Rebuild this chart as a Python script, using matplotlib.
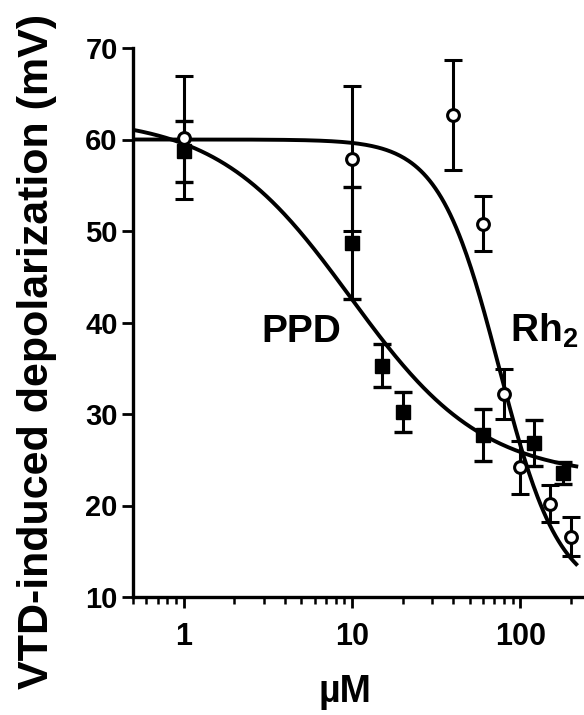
import numpy as np
import matplotlib
matplotlib.use('Agg')
from matplotlib import pyplot as plt

plt.rcParams['font.family'] = ['Liberation Sans', 'DejaVu Sans']
plt.rcParams['font.weight'] = 'bold'
plt.rcParams['mathtext.fontset'] = 'custom'
plt.rcParams['mathtext.rm'] = 'Liberation Sans:bold'
plt.rcParams['mathtext.bf'] = 'Liberation Sans:bold'

# PPD (filled squares)
ppd_conc = [1, 10, 15, 20, 60, 120, 180]
ppd_mean = [58.7, 48.7, 35.3, 30.2, 27.7, 26.8, 23.6]
ppd_sem = [3.3, 6.1, 2.3, 2.2, 2.8, 2.5, 1.2]

# Rh2 (open circles)
rh2_conc = [1, 10, 40, 60, 80, 100, 150, 200]
rh2_mean = [60.2, 57.9, 62.7, 50.8, 32.2, 24.2, 20.2, 16.6]
rh2_sem = [6.7, 7.9, 6.0, 3.0, 2.7, 2.9, 2.0, 2.1]

# sigmoidal dose-response fits: top, bottom, IC50, hill slope
ppd_fit = (62.5, 23.0, 9.8, 1.1)
rh2_fit = (60.0, 10.0, 75.0, 2.43)

xticks = [1, 10, 100]
yticks = [10, 20, 30, 40, 50, 60, 70]


def hill(x, top, bottom, ic50, n):
    return bottom + (top - bottom) / (1 + (x / ic50) ** n)


fig = plt.figure(figsize=(5.84, 7.15), dpi=100)
ax = fig.add_axes([133 / 584, 118 / 715, 451 / 584, 549 / 715])

xx = np.logspace(np.log10(0.5), np.log10(215), 300)
ax.plot(xx, hill(xx, *ppd_fit), color='black', lw=2.8, zorder=2)
ax.plot(xx, hill(xx, *rh2_fit), color='black', lw=2.8, zorder=2)

ax.errorbar(ppd_conc, ppd_mean, yerr=ppd_sem, fmt='s', color='black',
            ms=10, mfc='black', mec='black', ecolor='black', elinewidth=2.2,
            capsize=6.5, capthick=2.4, zorder=3)
ax.errorbar(rh2_conc, rh2_mean, yerr=rh2_sem, fmt='o', color='black',
            ms=8.5, mfc='white', mec='black', mew=2.2, ecolor='black',
            elinewidth=2.2, capsize=6.5, capthick=2.4, zorder=4)

ax.text(2.9, 37.9, 'PPD', fontsize=28, fontweight='bold', ha='left', va='baseline')
ax.text(87, 37.9, r'Rh$_{\mathbf{2}}$', fontsize=28, fontweight='bold', ha='left', va='baseline')

ax.set_xscale('log')
ax.set_xlim(0.5, 239)
ax.set_ylim(10, 70)
ax.set_xticks(xticks)
ax.set_xticklabels([str(t) for t in xticks])
ax.set_yticks(yticks)

for s in ['top', 'right']:
    ax.spines[s].set_visible(False)
for s in ['left', 'bottom']:
    ax.spines[s].set_linewidth(2.4)

ax.tick_params(axis='both', which='major', width=2, length=8, direction='out')
ax.tick_params(axis='x', which='major', labelsize=22, pad=10)
ax.tick_params(axis='y', which='major', labelsize=21, pad=3)
ax.tick_params(axis='x', which='minor', width=1.8, length=5)
for lab in ax.get_xticklabels() + ax.get_yticklabels():
    lab.set_fontweight('bold')

ax.set_ylabel('VTD-induced depolarization (mV)', fontsize=31, fontweight='bold')
ax.yaxis.set_label_coords(-0.168, 0.448)
ax.set_xlabel('\u00b5M', fontsize=27, fontweight='bold')
ax.xaxis.set_label_coords(0.47, -0.14)

fig.savefig('out.png', dpi=100)
